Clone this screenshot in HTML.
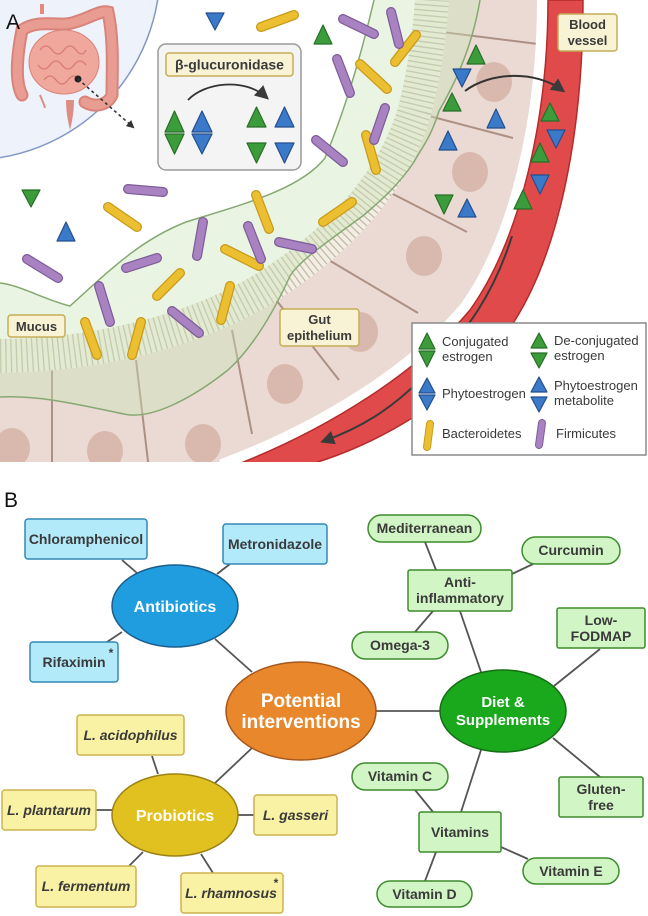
<!DOCTYPE html>
<html><head><meta charset="utf-8"><style>
html,body{margin:0;padding:0;background:#fff;width:648px;height:916px;overflow:hidden}
svg{display:block}
.t{font-family:"Liberation Sans Narrow","Liberation Sans",sans-serif;font-weight:bold;fill:#3a3a3a}
.w{font-family:"Liberation Sans",sans-serif;font-weight:bold;fill:#fff}
.lg{font-family:"Liberation Sans Narrow","Liberation Sans",sans-serif;fill:#3a3a3a;font-size:13px}
</style></head><body>
<svg width="648" height="916" viewBox="0 0 648 916" xmlns="http://www.w3.org/2000/svg">
<defs>
<marker id="ah" markerWidth="8" markerHeight="8" refX="6" refY="4" orient="auto" markerUnits="userSpaceOnUse"><path d="M0,0 L8,4 L0,8 Z" fill="#333"/></marker>
<marker id="ah2" markerWidth="14" markerHeight="14" refX="10" refY="7" orient="auto" markerUnits="userSpaceOnUse"><path d="M0,0 L14,7 L0,14 Z" fill="#3a3a3a"/></marker>
</defs>
<rect width="648" height="916" fill="#fff"/>
<!-- ===== PANEL A ===== -->
<circle cx="-30" cy="-30" r="190" fill="#eef2fa" stroke="#8497c6" stroke-width="1.5"/>
<!-- intestine -->
<g>
<path d="M40,14 L40,4 L44,4 L44,14" fill="#e8877d"/>
<path d="M22,95 C14,80 18,50 22,30 C40,18 60,28 75,22 C90,18 100,10 108,12 C114,40 112,70 112,95 C108,105 95,108 85,102" fill="none" stroke="#d9837a" stroke-width="13" stroke-linecap="round"/>
<path d="M22,95 C14,80 18,50 22,30 C40,18 60,28 75,22 C90,18 100,10 108,12 C114,40 112,70 112,95 C108,105 95,108 85,102" fill="none" stroke="#e99c92" stroke-width="9" stroke-linecap="round"/>
<ellipse cx="64" cy="62" rx="35" ry="32" fill="#f0a79c" stroke="#d9837a" stroke-width="1"/>
<path d="M40,50 q6,-8 12,0 t12,0 t12,0 t10,0 M38,65 q6,8 12,0 t12,0 t12,0 t12,0 M44,80 q6,-8 12,0 t12,0 t12,0" fill="none" stroke="#d77c72" stroke-width="1.3"/>
<path d="M66,100 C66,112 68,122 70,130 C72,122 74,112 74,100 Z" fill="#dd8e84"/>
<path d="M40,95 C42,100 44,104 45,108" stroke="#dd8e84" stroke-width="2" fill="none"/>
<circle cx="78" cy="79" r="3.5" fill="#222"/>
<line x1="78" y1="79" x2="133" y2="127" stroke="#333" stroke-width="1.6" stroke-dasharray="3,3" marker-end="url(#ah)"/>
</g>
<!-- cells -->
<path d="M0,340 C100,340 195,315 262,272 C330,228 385,170 405,100 C414,60 418,30 420,0 L570,0 L570,470 L0,470 Z" fill="#ebdad3"/>
<g stroke="#ad9084" stroke-width="2" fill="none">
<line x1="418" y1="29" x2="538" y2="44"/>
<line x1="410" y1="111" x2="513" y2="138"/>
<line x1="389" y1="192" x2="467" y2="232"/>
<line x1="327" y1="259" x2="418" y2="313"/>
<line x1="273" y1="296" x2="339" y2="380"/>
<line x1="232" y1="330" x2="252" y2="434"/>
<line x1="136" y1="360" x2="149" y2="470"/>
<line x1="52" y1="360" x2="52" y2="470"/>
</g>
<g fill="#d9b9ad">
<ellipse cx="494" cy="82" rx="18" ry="20"/>
<ellipse cx="470" cy="172" rx="18" ry="20"/>
<ellipse cx="424" cy="256" rx="18" ry="20"/>
<ellipse cx="360" cy="332" rx="18" ry="20"/>
<ellipse cx="285" cy="384" rx="18" ry="20"/>
<ellipse cx="203" cy="444" rx="18" ry="20"/>
<ellipse cx="105" cy="451" rx="18" ry="20"/>
<ellipse cx="12" cy="448" rx="18" ry="20"/>
</g>
<!-- villi -->
<path d="M0,356 C100,355 200,330 270,285 C340,240 395,180 415,110 C425,70 430,30 432,0" fill="none" stroke="#f3eee4" stroke-width="34"/>
<path d="M0,356 C100,355 200,330 270,285 C340,240 395,180 415,110 C425,70 430,30 432,0" fill="none" stroke="#c4b9a6" stroke-width="34" stroke-dasharray="1.3,4"/>
<!-- mucus band -->
<path d="M0,283 C20,285 45,300 70,306 C110,270 140,240 186,222 C240,205 300,190 325,158 C345,110 360,60 374,0 L480,0 C470,60 445,100 439,111 C430,140 420,150 414,162 C395,190 375,205 364,215 C330,240 300,260 290,276 C270,320 250,350 228,370 C190,400 150,420 124,414 C80,405 40,395 0,397 Z" fill="#c8e3b6" fill-opacity="0.4"/>
<path d="M0,283 C20,285 45,300 70,306 C110,270 140,240 186,222 C240,205 300,190 325,158 C345,110 360,60 374,0" fill="none" stroke="#86a872" stroke-width="1.5"/>
<path d="M480,0 C470,60 445,100 439,111 C430,140 420,150 414,162 C395,190 375,205 364,215 C330,240 300,260 290,276 C270,320 250,350 228,370 C190,400 150,420 124,414 C80,405 40,395 0,397" fill="none" stroke="#86a872" stroke-width="1.5"/>
<!-- gap and vessel -->
<path d="M223,470 C330,430 420,370 470,310 C520,240 548,120 548,0" fill="none" stroke="#fff" stroke-width="22"/>
<path d="M583,0 L648,0 L648,470 L290,470 C370,450 450,405 505,335 C560,260 583,130 583,0 Z" fill="#fff"/>
<path d="M223,470 C330,430 420,370 470,310 C520,240 548,120 548,0 L583,0 C583,130 560,260 505,335 C450,405 370,450 290,470 Z" fill="#e04a4a" stroke="#b32b2b" stroke-width="1.5"/>
<path d="M512,236 C495,290 470,330 420,380 C390,410 360,428 324,441" fill="none" stroke="#3a3a3a" stroke-width="2" marker-end="url(#ah2)"/>
<rect x="0" y="462" width="648" height="20" fill="#fff"/>
<!-- beta box (behind its contents) -->
<rect x="158" y="44" width="143" height="126" rx="8" fill="#f4f4f4" stroke="#9a9a9a" stroke-width="1.5"/>
<rect x="166" y="53" width="127" height="23" rx="3" fill="#f8f3d4" stroke="#c6ad58" stroke-width="1.5"/>
<text x="229.5" y="69.5" class="t" font-size="14" text-anchor="middle">β-glucuronidase</text>
<path d="M188,100 C205,82 245,78 266,97" fill="none" stroke="#333" stroke-width="1.8" marker-end="url(#ah2)"/>
<!-- bacteria -->
<g stroke-linecap="round">
<g stroke="#c99b1c" stroke-width="10">
<line x1="261" y1="27" x2="294" y2="15"/><line x1="395" y1="62" x2="416" y2="35"/><line x1="360" y1="64" x2="387" y2="89"/><line x1="366" y1="135" x2="376" y2="170"/><line x1="256" y1="195" x2="269" y2="229"/><line x1="323" y1="222" x2="352" y2="202"/><line x1="108" y1="207" x2="137" y2="227"/><line x1="225" y1="249" x2="259" y2="266"/><line x1="157" y1="296" x2="180" y2="273"/><line x1="221" y1="320" x2="230" y2="286"/><line x1="85" y1="322" x2="97" y2="355"/><line x1="132" y1="355" x2="141" y2="322"/>
</g>
<g stroke="#ebbf30" stroke-width="7.5">
<line x1="261" y1="27" x2="294" y2="15"/><line x1="395" y1="62" x2="416" y2="35"/><line x1="360" y1="64" x2="387" y2="89"/><line x1="366" y1="135" x2="376" y2="170"/><line x1="256" y1="195" x2="269" y2="229"/><line x1="323" y1="222" x2="352" y2="202"/><line x1="108" y1="207" x2="137" y2="227"/><line x1="225" y1="249" x2="259" y2="266"/><line x1="157" y1="296" x2="180" y2="273"/><line x1="221" y1="320" x2="230" y2="286"/><line x1="85" y1="322" x2="97" y2="355"/><line x1="132" y1="355" x2="141" y2="322"/>
</g>
<g stroke="#7f5c9a" stroke-width="10">
<line x1="343" y1="19" x2="374" y2="34"/><line x1="391" y1="12" x2="399" y2="44"/><line x1="337" y1="59" x2="350" y2="93"/><line x1="374" y1="140" x2="385" y2="108"/><line x1="316" y1="140" x2="343" y2="162"/><line x1="128" y1="189" x2="163" y2="192"/><line x1="197" y1="256" x2="203" y2="222"/><line x1="248" y1="226" x2="261" y2="259"/><line x1="279" y1="242" x2="312" y2="249"/><line x1="126" y1="268" x2="157" y2="258"/><line x1="27" y1="259" x2="58" y2="278"/><line x1="99" y1="286" x2="110" y2="322"/><line x1="172" y1="311" x2="199" y2="333"/>
</g>
<g stroke="#a982c1" stroke-width="7.5">
<line x1="343" y1="19" x2="374" y2="34"/><line x1="391" y1="12" x2="399" y2="44"/><line x1="337" y1="59" x2="350" y2="93"/><line x1="374" y1="140" x2="385" y2="108"/><line x1="316" y1="140" x2="343" y2="162"/><line x1="128" y1="189" x2="163" y2="192"/><line x1="197" y1="256" x2="203" y2="222"/><line x1="248" y1="226" x2="261" y2="259"/><line x1="279" y1="242" x2="312" y2="249"/><line x1="126" y1="268" x2="157" y2="258"/><line x1="27" y1="259" x2="58" y2="278"/><line x1="99" y1="286" x2="110" y2="322"/><line x1="172" y1="311" x2="199" y2="333"/>
</g>
</g>
<!-- triangles -->
<g stroke-linejoin="round" stroke-width="1.2">
<g fill="#3c9c3c" stroke="#276f27">
<polygon points="314,44 332,44 323,25"/>
<polygon points="22,190 40,190 31,207"/>
<polygon points="467,64 485,64 476,45"/>
<polygon points="443,111 461,111 452,93"/>
<polygon points="435,195 453,195 444,214"/>
<polygon points="541,121 559,121 550,103"/>
<polygon points="531,162 549,162 540,143"/>
<polygon points="514,209 532,209 523,190"/>
<polygon points="165,132 184,132 174.5,111"/><polygon points="165,134 184,134 174.5,154"/>
<polygon points="247,127 266,127 256.5,107"/><polygon points="247,143 266,143 256.5,163"/>
</g>
<g fill="#3b79c9" stroke="#244f8f">
<polygon points="206,13 224,13 215,30"/>
<polygon points="57,241 75,241 66,222"/>
<polygon points="453,69 471,69 462,87"/>
<polygon points="487,128 505,128 496,109"/>
<polygon points="439,150 457,150 448,131"/>
<polygon points="458,217 476,217 467,199"/>
<polygon points="547,130 565,130 556,148"/>
<polygon points="531,175 549,175 540,194"/>
<polygon points="192,132 212,132 202,111"/><polygon points="192,134 212,134 202,154"/>
<polygon points="275,127 294,127 284.5,107"/><polygon points="275,143 294,143 284.5,163"/>
</g>
</g>
<path d="M465,91 C490,72 535,70 562,90" fill="none" stroke="#333" stroke-width="2" marker-end="url(#ah2)"/>
<!-- labels -->
<text x="6" y="29" font-family="Liberation Sans,sans-serif" font-size="21" fill="#111">A</text>
<rect x="558" y="14" width="59" height="37" rx="3" fill="#f8f3d4" stroke="#c6ad58" stroke-width="1.5"/>
<text x="587.5" y="29" class="t" font-size="13" text-anchor="middle">Blood</text>
<text x="587.5" y="45" class="t" font-size="13" text-anchor="middle">vessel</text>
<rect x="8" y="315" width="57" height="22" rx="3" fill="#f8f3d4" stroke="#c6ad58" stroke-width="1.5"/>
<text x="36.5" y="331" class="t" font-size="13" text-anchor="middle">Mucus</text>
<rect x="280" y="309" width="79" height="37" rx="3" fill="#f8f3d4" stroke="#c6ad58" stroke-width="1.5"/>
<text x="319.5" y="324" class="t" font-size="13" text-anchor="middle">Gut</text>
<text x="319.5" y="340" class="t" font-size="13" text-anchor="middle">epithelium</text>
<!-- legend -->
<rect x="412" y="323" width="234" height="132" fill="#fff" stroke="#8a8a8a" stroke-width="1.5"/>
<g stroke-linejoin="round" stroke-width="1.2">
<g fill="#3c9c3c" stroke="#276f27">
<polygon points="419,349 435,349 427,333"/><polygon points="419,351 435,351 427,367"/>
<polygon points="531,348 547,348 539,333"/><polygon points="531,353 547,353 539,368"/>
</g>
<g fill="#3b79c9" stroke="#244f8f">
<polygon points="419,393 435,393 427,378"/><polygon points="419,395 435,395 427,410"/>
<polygon points="531,392 547,392 539,377"/><polygon points="531,397 547,397 539,412"/>
</g>
</g>
<line x1="430" y1="424" x2="427" y2="447" stroke="#c99b1c" stroke-width="8" stroke-linecap="round"/>
<line x1="430" y1="424" x2="427" y2="447" stroke="#ebbf30" stroke-width="6" stroke-linecap="round"/>
<line x1="542" y1="423" x2="539" y2="445" stroke="#7f5c9a" stroke-width="8" stroke-linecap="round"/>
<line x1="542" y1="423" x2="539" y2="445" stroke="#a982c1" stroke-width="6" stroke-linecap="round"/>
<text x="442" y="346" class="lg">Conjugated</text>
<text x="442" y="361" class="lg">estrogen</text>
<text x="554" y="345" class="lg">De-conjugated</text>
<text x="554" y="360" class="lg">estrogen</text>
<text x="442" y="398" class="lg">Phytoestrogen</text>
<text x="554" y="390" class="lg">Phytoestrogen</text>
<text x="554" y="405" class="lg">metabolite</text>
<text x="442" y="438" class="lg">Bacteroidetes</text>
<text x="556" y="438" class="lg">Firmicutes</text>

<!-- ===== PANEL B ===== -->
<text x="4" y="507" font-family="Liberation Sans,sans-serif" font-size="21" fill="#111">B</text>
<g stroke="#555" stroke-width="1.8">
<line x1="122" y1="560" x2="137" y2="573"/>
<line x1="230" y1="564" x2="217" y2="574"/>
<line x1="107" y1="642" x2="122" y2="632"/>
<line x1="215" y1="639" x2="252" y2="672"/>
<line x1="252" y1="748" x2="215" y2="783"/>
<line x1="152" y1="756" x2="158" y2="774"/>
<line x1="96" y1="810" x2="112" y2="810"/>
<line x1="238" y1="815" x2="254" y2="815"/>
<line x1="129" y1="866" x2="143" y2="852"/>
<line x1="213" y1="873" x2="201" y2="854"/>
<line x1="376" y1="711" x2="440" y2="711"/>
<line x1="425" y1="542" x2="436" y2="570"/>
<line x1="533" y1="564" x2="512" y2="574"/>
<line x1="415" y1="632" x2="433" y2="611"/>
<line x1="460" y1="611" x2="481" y2="672"/>
<line x1="600" y1="649" x2="554" y2="686"/>
<line x1="553" y1="738" x2="600" y2="777"/>
<line x1="481" y1="750" x2="461" y2="812"/>
<line x1="415" y1="790" x2="433" y2="812"/>
<line x1="501" y1="847" x2="528" y2="859"/>
<line x1="436" y1="852" x2="425" y2="881"/>
</g>
<g fill="#b2eafa" stroke="#3488b5" stroke-width="1.5">
<rect x="25" y="519" width="122" height="40" rx="3"/>
<rect x="223" y="524" width="104" height="40" rx="3"/>
<rect x="30" y="642" width="88" height="40" rx="3"/>
</g>
<text x="86" y="544" class="t" font-size="14" text-anchor="middle">Chloramphenicol</text>
<text x="275" y="549" class="t" font-size="14" text-anchor="middle">Metronidazole</text>
<text x="74" y="667" class="t" font-size="14" text-anchor="middle">Rifaximin</text>
<text x="111" y="657" class="t" font-size="12" text-anchor="middle">*</text>
<g fill="#f9f1a3" stroke="#cdb24e" stroke-width="1.5">
<rect x="77" y="715" width="107" height="40" rx="3"/>
<rect x="2" y="790" width="94" height="40" rx="3"/>
<rect x="254" y="795" width="83" height="40" rx="3"/>
<rect x="36" y="866" width="100" height="41" rx="3"/>
<rect x="181" y="873" width="102" height="40" rx="3"/>
</g>
<g font-size="14" text-anchor="middle">
<text x="130.5" y="740" class="t" font-style="italic">L. acidophilus</text>
<text x="49" y="815" class="t" font-style="italic">L. plantarum</text>
<text x="295.5" y="820" class="t" font-style="italic">L. gasseri</text>
<text x="86" y="891" class="t" font-style="italic">L. fermentum</text>
<text x="231" y="898" class="t" font-style="italic">L. rhamnosus</text>
</g>
<text x="276" y="887" class="t" font-size="12" text-anchor="middle">*</text>
<g fill="#d2f5c6" stroke="#3d8c2d" stroke-width="1.5">
<rect x="368" y="515" width="113" height="27" rx="13.5"/>
<rect x="522" y="537" width="98" height="27" rx="13.5"/>
<rect x="352" y="632" width="96" height="27" rx="13.5"/>
<rect x="352" y="763" width="96" height="27" rx="13.5"/>
<rect x="523" y="858" width="96" height="26" rx="13"/>
<rect x="377" y="881" width="95" height="26" rx="13"/>
<rect x="408" y="570" width="104" height="41" rx="2"/>
<rect x="557" y="608" width="88" height="40" rx="2"/>
<rect x="559" y="777" width="84" height="40" rx="2"/>
<rect x="419" y="812" width="82" height="40" rx="2"/>
</g>
<g font-size="14" text-anchor="middle">
<text x="424.5" y="533" class="t">Mediterranean</text>
<text x="571" y="555" class="t">Curcumin</text>
<text x="400" y="650" class="t">Omega-3</text>
<text x="400" y="781" class="t">Vitamin C</text>
<text x="571" y="876" class="t">Vitamin E</text>
<text x="424.5" y="899" class="t">Vitamin D</text>
<text x="460" y="587" class="t">Anti-</text>
<text x="460" y="603" class="t">inflammatory</text>
<text x="601" y="625" class="t">Low-</text>
<text x="601" y="641" class="t">FODMAP</text>
<text x="601" y="794" class="t">Gluten-</text>
<text x="601" y="810" class="t">free</text>
<text x="460" y="837" class="t">Vitamins</text>
</g>
<ellipse cx="175" cy="606" rx="63" ry="41" fill="#1f9ddf" stroke="#1d5e8c" stroke-width="1.5"/>
<ellipse cx="301" cy="711" rx="75" ry="49" fill="#e8872c" stroke="#a8571a" stroke-width="1.5"/>
<ellipse cx="503" cy="711" rx="63" ry="41" fill="#1aa91c" stroke="#146f14" stroke-width="1.5"/>
<ellipse cx="175" cy="815" rx="63" ry="41" fill="#e1c120" stroke="#9b8216" stroke-width="1.5"/>
<text x="175" y="612" class="w" font-size="16" text-anchor="middle">Antibiotics</text>
<text x="301" y="707" class="w" font-size="19" text-anchor="middle">Potential</text>
<text x="301" y="728" class="w" font-size="19" text-anchor="middle">interventions</text>
<text x="503" y="707" class="w" font-size="15" text-anchor="middle">Diet &amp;</text>
<text x="503" y="725" class="w" font-size="15" text-anchor="middle">Supplements</text>
<text x="175" y="821" class="w" font-size="16" text-anchor="middle">Probiotics</text>
</svg>
</body></html>
